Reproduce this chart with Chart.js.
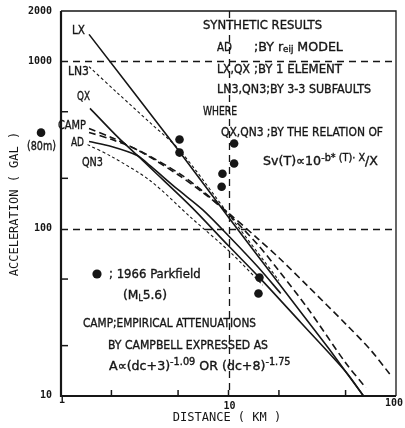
<!DOCTYPE html>
<html>
<head>
<meta charset="utf-8">
<script src="https://cdn.jsdelivr.net/npm/chart.js@4.4.1/dist/chart.umd.min.js"></script>
<style>
  html, body { margin: 0; padding: 0; background: #fff; }
  #wrap { width: 405px; height: 428px; }
</style>
</head>
<body>
<div id="wrap"><canvas id="chart" width="405" height="428"></canvas></div>
<script>
// ---- values (distance km, acceleration gal) ----
const lxDist = [1.47, 5.1, 10, 20, 40, 64];
const lxAcc = [1450, 288, 117, 47, 19, 10];

const ln3Dist = [1.47, 2.2, 3.4, 5.1, 10, 20];
const ln3Acc = [930, 640, 430, 295, 122, 49];

const qxDist = [1.49, 2.2, 2.85, 3.4, 6, 10, 15.3, 27, 50, 64];
const qxAcc = [524, 350, 275, 232, 135, 79, 51, 27.5, 14, 10];

const adDist = [1.47, 2.0, 2.85, 3.4, 5, 7, 10.3, 15, 20.5];
const adAcc = [332, 310, 274, 238, 171, 130, 88, 59, 41];

const qn3Dist = [1.44, 2.0, 3.4, 6, 10.3, 16];
const qn3Acc = [318, 270, 194, 116, 72, 46];

const camp1Dist = [1.47, 2, 3, 5, 7, 10, 15, 20, 30, 50, 70, 92];
const camp1Acc = [397, 351, 288, 210, 165, 124, 87, 67, 45, 27, 19, 13.5];

const camp2Dist = [1.47, 2, 3, 5, 7, 10, 15, 20, 30, 50, 66];
const camp2Acc = [376, 342, 289, 216, 168, 122, 80, 56, 33, 15.8, 11.2];

// 1966 Parkfield records
const parkDist = [5.1, 5.1, 10.8, 10.8, 9.2, 9.1, 15.3, 15.1];
const parkAcc = [341, 285, 323, 245, 213, 178, 51, 41];
// the 80 m station sits left of the axis start
const nearDist = [0.76];
const nearAcc = [375];

// axes
const xMajor = [1, 10, 100];
const xMinor = [2, 5, 20, 50];
const yMajor = [10, 100, 1000, 2000];
const yMinor = [20, 50, 200, 500];
const refX = [10];
const refY = [100, 1000];

function pts(xs, ys) {
  return xs.map((v, i) => ({ x: v, y: ys[i] }));
}

const INK = '#161616';
const NOTE_FONT = "'DejaVu Sans Condensed', 'DejaVu Sans', sans-serif";

// plain text notes: text, left x, middle y, max width
const notes = [
  ['SYNTHETIC RESULTS', 203, 26, 119],
  ['AD', 217, 48, 15],
  ['LX,QX', 217, 70, 33],
  [';BY 1 ELEMENT', 254, 70, 92],
  ['LN3,QN3;BY 3-3 SUBFAULTS', 217, 90, 154],
  ['WHERE', 203, 112, 34],
  ['QX,QN3 ;BY THE RELATION OF', 221, 133, 162],
  ['LX', 72, 31, 13],
  ['LN3', 68, 72, 21],
  ['QX', 77, 97, 13],
  ['CAMP', 58, 126, 28],
  ['AD', 71, 143, 13],
  ['QN3', 82, 163, 21],
  ['(80m)', 27, 147, 29],
  ['; 1966 Parkfield', 109, 275, 104],
  ['CAMP;EMPIRICAL ATTENUATIONS', 83, 324, 173],
  ['BY CAMPBELL EXPRESSED AS', 108, 346, 160]
];

function inkText(ctx, s, x, y, maxW) {
  if (maxW) {
    ctx.fillText(s, x, y, maxW);
    ctx.strokeText(s, x, y, maxW);
  } else {
    ctx.fillText(s, x, y);
    ctx.strokeText(s, x, y);
  }
}

function drawRich(ctx, parts, x, y, size, width) {
  // parts: [text, scale, dy]; squeezed to width if too long
  let total = 0;
  parts.forEach(p => {
    ctx.font = Math.round(size * p[1]) + 'px ' + NOTE_FONT;
    total += ctx.measureText(p[0]).width;
  });
  ctx.save();
  ctx.translate(x, y);
  ctx.scale(Math.min(width / total, 1.08), 1);
  let cx = 0;
  parts.forEach(p => {
    ctx.font = Math.round(size * p[1]) + 'px ' + NOTE_FONT;
    inkText(ctx, p[0], cx, p[2]);
    cx += ctx.measureText(p[0]).width;
  });
  ctx.restore();
}

const paperPlugin = {
  id: 'paper',
  beforeDatasetsDraw(chart) {
    const { ctx, chartArea: a, scales: { x, y } } = chart;
    ctx.save();
    ctx.strokeStyle = INK;
    ctx.lineWidth = 1.3;
    ctx.setLineDash([7, 5]);
    refY.forEach(v => {
      const py = Math.round(y.getPixelForValue(v)) + 0.5;
      ctx.beginPath(); ctx.moveTo(a.left, py); ctx.lineTo(a.right, py); ctx.stroke();
    });
    refX.forEach(v => {
      const px = Math.round(x.getPixelForValue(v)) + 0.5;
      ctx.beginPath(); ctx.moveTo(px, a.top); ctx.lineTo(px, a.bottom); ctx.stroke();
    });
    ctx.restore();
  },
  afterDatasetsDraw(chart) {
    const { ctx, chartArea: a, scales: { x, y } } = chart;
    ctx.save();
    ctx.strokeStyle = INK;
    ctx.fillStyle = INK;

    // frame
    ctx.lineWidth = 2.2;
    ctx.beginPath();
    ctx.moveTo(a.left, a.top); ctx.lineTo(a.left, a.bottom); ctx.lineTo(a.right, a.bottom);
    ctx.stroke();
    ctx.lineWidth = 1.3;
    ctx.beginPath();
    ctx.moveTo(a.left, a.top); ctx.lineTo(a.right, a.top); ctx.lineTo(a.right, a.bottom);
    ctx.stroke();

    // inward ticks
    ctx.lineWidth = 1.5;
    yMinor.forEach(v => {
      const py = y.getPixelForValue(v);
      ctx.beginPath(); ctx.moveTo(a.left, py); ctx.lineTo(a.left + 7, py); ctx.stroke();
    });
    xMinor.concat([10]).forEach(v => {
      const px = x.getPixelForValue(v);
      ctx.beginPath(); ctx.moveTo(px, a.bottom); ctx.lineTo(px, a.bottom - 6); ctx.stroke();
    });

    // the 80 m record, outside the plotted range
    nearDist.forEach((d, i) => {
      ctx.beginPath();
      ctx.arc(x.getPixelForValue(d), y.getPixelForValue(nearAcc[i]), 4.3, 0, Math.PI * 2);
      ctx.fill();
    });

    // tick labels
    ctx.font = "bold 10px 'DejaVu Sans Mono', monospace";
    ctx.textBaseline = 'middle';
    ctx.textAlign = 'right';
    yMajor.forEach(v => {
      ctx.fillText(String(v), a.left - 9, y.getPixelForValue(v) + (v === 10 ? -1 : 0));
    });
    ctx.textAlign = 'center';
    xMajor.forEach(v => {
      const px = x.getPixelForValue(v);
      const dy = v === 1 ? 4 : (v === 10 ? 10 : 7);
      ctx.fillText(String(v), px - (v === 100 ? 2 : -1), a.bottom + dy);
    });

    // axis titles
    ctx.font = "12px 'DejaVu Sans Mono', monospace";
    ctx.textAlign = 'center';
    ctx.fillText('DISTANCE ( KM )', 227, 418);
    ctx.save();
    ctx.translate(15, 204);
    ctx.rotate(-Math.PI / 2);
    ctx.fillText('ACCELERATION ( GAL )', 0, 0, 152);
    ctx.restore();

    // notes
    ctx.textAlign = 'left';
    ctx.lineWidth = 0.35;
    ctx.font = '13px ' + NOTE_FONT;
    notes.forEach(n => inkText(ctx, n[0], n[1], n[2], n[3]));

    drawRich(ctx, [[';BY r', 1, 0], ['eij', 0.7, 2], [' MODEL', 1, 0]], 254, 48, 13, 98);
    drawRich(ctx, [['Sv(T)\u221d10', 1, 0], ['-b* (T)\u00b7 X', 0.75, -4], ['/X', 1, 0]], 263, 162, 13, 129);
    drawRich(ctx, [['(M', 1, 0], ['L', 0.65, 3], ['5.6)', 1, 0]], 123, 296, 13, 44);
    drawRich(ctx, [['A\u221d(dc+3)', 1, 0], ['-1.09', 0.75, -5], [' OR (dc+8)', 1, 0], ['-1.75', 0.75, -5]], 109, 367, 13, 190);

    // legend marker for the Parkfield records
    ctx.beginPath();
    ctx.arc(97, 274, 4.6, 0, Math.PI * 2);
    ctx.fill();
    ctx.restore();
  }
};

const solid = { borderColor: INK, borderWidth: 1.6, pointRadius: 0, showLine: true, fill: false };
const fine = { borderColor: INK, borderWidth: 1.1, borderDash: [3, 2.5], pointRadius: 0, showLine: true, fill: false };
const camp = { borderColor: INK, borderWidth: 1.6, borderDash: [7, 4], pointRadius: 0, showLine: true, fill: false };

new Chart(document.getElementById('chart'), {
  type: 'scatter',
  data: {
    datasets: [
      Object.assign({ label: 'LX', data: pts(lxDist, lxAcc), tension: 0.1 }, solid),
      Object.assign({ label: 'QX', data: pts(qxDist, qxAcc), tension: 0.3 }, solid),
      Object.assign({ label: 'AD', data: pts(adDist, adAcc), tension: 0.3 }, solid),
      Object.assign({ label: 'LN3', data: pts(ln3Dist, ln3Acc), tension: 0.3 }, fine),
      Object.assign({ label: 'QN3', data: pts(qn3Dist, qn3Acc), tension: 0.3 }, fine),
      Object.assign({ label: 'CAMP (dc+3)', data: pts(camp1Dist, camp1Acc), tension: 0.3 }, camp),
      Object.assign({ label: 'CAMP (dc+8)', data: pts(camp2Dist, camp2Acc), tension: 0.3 }, camp),
      {
        label: '1966 Parkfield',
        data: pts(parkDist, parkAcc),
        showLine: false,
        pointRadius: 4.3,
        pointBackgroundColor: INK,
        pointBorderWidth: 0
      }
    ]
  },
  options: {
    responsive: false,
    animation: false,
    layout: { padding: { left: 61, right: 9, top: 11, bottom: 32 } },
    scales: {
      x: { type: 'logarithmic', min: 1, max: 100, display: false },
      y: { type: 'logarithmic', min: 10, max: 2000, display: false }
    },
    plugins: {
      legend: { display: false },
      tooltip: { enabled: false }
    }
  },
  plugins: [paperPlugin]
});
</script>
</body>
</html>
